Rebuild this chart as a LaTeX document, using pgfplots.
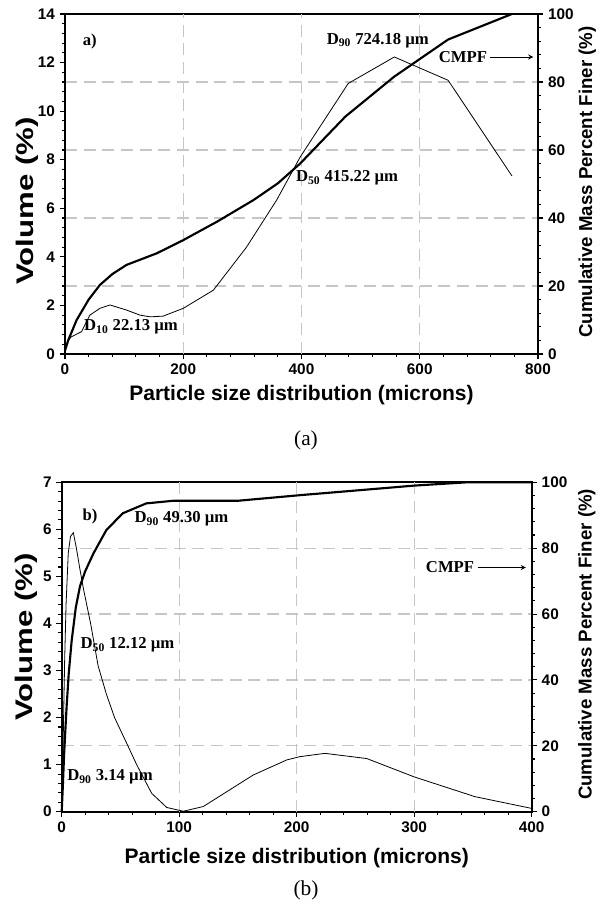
\documentclass[border=0pt]{standalone}
\usepackage{pgfplots}
\pgfplotsset{compat=1.18}
\usepackage{fontspec}
\newfontfamily\arial{Liberation Sans}
\newfontfamily\arialwide[FakeStretch=1.3]{Liberation Sans}
\newfontfamily\tnr{Liberation Serif}

% volume curve (a)
\pgfplotstableread{
x v
0 0.2
3 0.45
10 0.7
28 0.92
42 1.6
59 1.88
76 2.02
104 1.81
127 1.6
144 1.53
166 1.56
200 1.88
251 2.63
307 4.4
358 6.34
398 8.12
479 11.14
557 12.23
648 11.27
756 7.33
}\volA
% CMPF curve (a)
\pgfplotstableread{
x c
0 1
5.6 4.1
19.7 10
40 16
59 20.3
80 23.5
104 26.2
155 29.6
200 33.5
257 38.9
319 45.3
360 50.2
397.6 56
474 69.8
557 81.6
648 92.5
756 100
}\cumA
% volume curve (b)
\pgfplotstableread{
x v
0.5 0
1.4 1.7
2.5 3.2
3.7 4.4
5.6 5.5
7.5 5.85
9.9 5.93
12.5 5.6
15.6 5.14
18.4 4.75
24.6 4.0
31 3.1
38 2.5
45 2.0
56.7 1.38
63.8 1.0
76.6 0.39
89.4 0.09
103.5 0.01
120.5 0.11
163 0.78
191.5 1.1
202.8 1.17
224 1.24
259.6 1.13
300 0.74
351.7 0.32
400 0.07
}\volB
% CMPF curve (b)
\pgfplotstableread{
x c
0 0
1 8
2 17
3 24
4.2 32
6 42
8.5 52
12 62
15.6 68.5
20 73
27 78.4
38 85.5
52 90.6
72 93.6
95 94.4
150 94.4
203 96.1
260 97.8
300 99
345 100
400 100
}\cumB

\tikzset{
  thinline/.style={black,line width=0.6pt},
  thickline/.style={black,line width=1.6pt},
  ann/.style={font=\tnr\bfseries\fontsize{12.5}{14}\selectfont},
}
\pgfplotsset{
  psd/.style={
    scale only axis,
    anchor=south west,
    axis line style={line width=1.3pt},
    tick align=outside,
    major tick length=4pt,
    minor tick length=2.5pt,
    every tick/.style={black,line width=0.8pt},
    /pgf/number format/assume math mode=true,
    ticklabel style={font=\arial\bfseries\fontsize{11.5}{13}\selectfont},
    grid style={gray!45,line width=0.9pt,dash pattern=on 9pt off 5pt},
    clip=false,
  },
  % right axis: grid lines only inside the frame
  rightgrid/.style={
    extra y ticks={20,40,60,80},
    extra y tick labels={},
    extra y tick style={ymajorgrids=true, major tick length=0pt},
  },
}

\begin{document}
\begin{tikzpicture}
\path[use as bounding box] (0,0) rectangle (452.25pt,-680.25pt);

% ---------- (a) ----------
\begin{axis}[psd, rightgrid,
  at={(48.75pt,-265.5pt)}, width=354.75pt, height=255pt,
  xmin=0, xmax=800, ymin=0, ymax=100,
  axis x line=none, axis y line*=right,
  ytick={0,20,...,100}, minor y tick num=4,
  ylabel={Cumulative Mass Percent Finer (\%)},
  ylabel style={font=\arial\bfseries\fontsize{14}{16}\selectfont,
    at={(axis description cs:1.104,0.506)}, anchor=center},
]
\addplot[draw=none] coordinates {(0,0)};
\end{axis}
\begin{axis}[psd,
  at={(48.75pt,-265.5pt)}, width=354.75pt, height=255pt,
  xmin=0, xmax=800, ymin=0, ymax=14,
  xtick={0,200,...,800}, ytick={0,2,...,14},
  minor x tick num=4, minor y tick num=4,
  xtick pos=bottom, ytick pos=left,
  extra x ticks={200,400,600}, extra x tick labels={},
  extra x tick style={xmajorgrids=true, major tick length=0pt},
  xlabel={Particle size distribution (microns)},
  ylabel={Volume (\%)},
  xlabel style={font=\arial\bfseries\fontsize{15.75}{17}\selectfont,
    at={(axis description cs:0.5,-0.12)}, anchor=center},
  ylabel style={font=\arialwide\bfseries\fontsize{18}{20}\selectfont,
    at={(axis description cs:-0.08,0.45)}, anchor=center},
]
\addplot[thinline] table[x=x,y=v] {\volA};
\node[ann] at (axis cs:42,12.85) {a)};
\node[ann] at (axis cs:529,12.9) {D\textsubscript{90} 724.18 µm};
\node[ann] at (axis cs:673,12.23) {CMPF};
\draw[-stealth,line width=0.7pt] (axis cs:719,12.23) -- (axis cs:792,12.23);
\node[ann] at (axis cs:477,7.25) {D\textsubscript{50} 415.22 µm};
\node[ann] at (axis cs:111.6,1.11) {D\textsubscript{10} 22.13 µm};
\end{axis}
\begin{axis}[psd,
  at={(48.75pt,-265.5pt)}, width=354.75pt, height=255pt,
  xmin=0, xmax=800, ymin=0, ymax=100,
  hide axis,
]
\addplot[thickline] table[x=x,y=c] {\cumA};
\end{axis}
\node[font=\tnr\fontsize{16}{18}\selectfont] at (229.5pt,-330pt) {(a)};

% ---------- (b) ----------
\begin{axis}[psd, rightgrid,
  at={(46.275pt,-608.775pt)}, width=352.5pt, height=247.05pt,
  xmin=0, xmax=400, ymin=0, ymax=100,
  axis x line=none, axis y line*=right,
  ytick={0,20,...,100}, minor y tick num=4,
  ylabel={Cumulative Mass Percent Finer (\%)},
  ylabel style={font=\arial\bfseries\fontsize{14}{16}\selectfont,
    at={(axis description cs:1.117,0.508)}, anchor=center},
]
\addplot[draw=none] coordinates {(0,0)};
\end{axis}
\begin{axis}[psd,
  at={(46.275pt,-608.775pt)}, width=352.5pt, height=247.05pt,
  xmin=0, xmax=400, ymin=0, ymax=7,
  xtick={0,100,...,400}, ytick={0,1,...,7},
  minor x tick num=4, minor y tick num=4,
  xtick pos=bottom, ytick pos=left,
  extra x ticks={100,200,300}, extra x tick labels={},
  extra x tick style={xmajorgrids=true, major tick length=0pt},
  xlabel={Particle size distribution (microns)},
  ylabel={Volume (\%)},
  xlabel style={font=\arial\bfseries\fontsize{15.75}{17}\selectfont,
    at={(axis description cs:0.5,-0.14)}, anchor=center},
  ylabel style={font=\arialwide\bfseries\fontsize{18}{20}\selectfont,
    at={(axis description cs:-0.075,0.53)}, anchor=center},
]
\addplot[thinline] table[x=x,y=v] {\volB};
\node[ann] at (axis cs:24.1,6.28) {b)};
\node[ann] at (axis cs:102,6.22) {D\textsubscript{90} 49.30 µm};
\node[ann] at (axis cs:330.5,5.19) {CMPF};
\draw[-stealth,line width=0.7pt] (axis cs:354,5.19) -- (axis cs:395,5.19);
\node[ann] at (axis cs:56,3.54) {D\textsubscript{50} 12.12 µm};
\node[ann] at (axis cs:41.1,0.74) {D\textsubscript{90} 3.14 µm};
\end{axis}
\begin{axis}[psd,
  at={(46.275pt,-608.775pt)}, width=352.5pt, height=247.05pt,
  xmin=0, xmax=400, ymin=0, ymax=100,
  hide axis,
]
\addplot[thickline] table[x=x,y=c] {\cumB};
\end{axis}
\node[font=\tnr\fontsize{16}{18}\selectfont] at (229.5pt,-667.5pt) {(b)};
\end{tikzpicture}
\end{document}
